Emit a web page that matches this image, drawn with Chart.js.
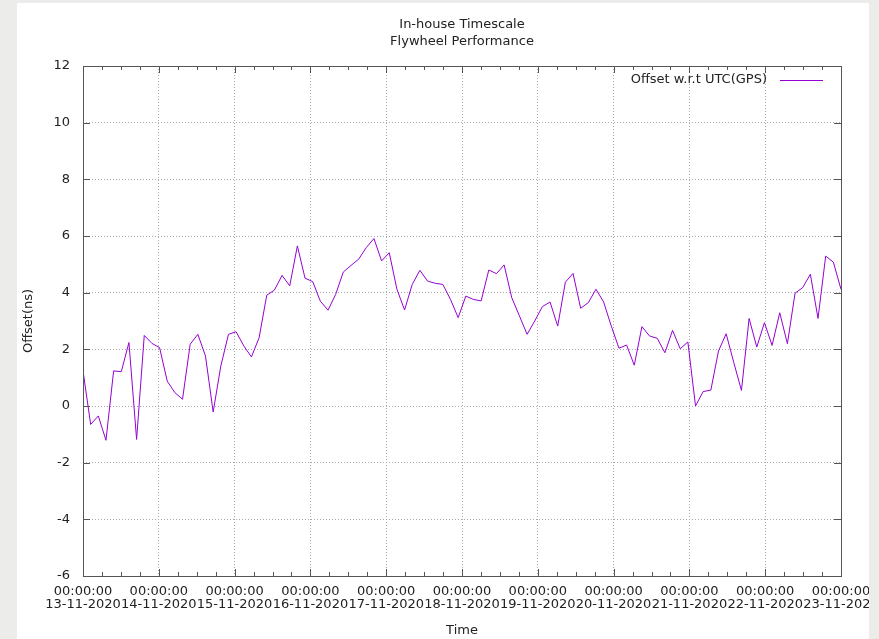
<!DOCTYPE html>
<html>
<head>
<meta charset="utf-8">
<title>In-house Timescale</title>
<script src="https://cdn.jsdelivr.net/npm/chart.js@4/dist/chart.umd.min.js"></script>
<style>
    html, body { margin: 0; padding: 0; background: #ecedea; overflow: hidden; }
    #frame { position: absolute; left: 17px; top: 3px; width: 852px; height: 636px; overflow: hidden; background: #fff; }
</style>
</head>
<body>
<div id="frame"><canvas id="myChart" width="900" height="636"></canvas></div>
<script>
const titleLines = ['In-house Timescale', 'Flywheel Performance']
const seriesLabel = 'Offset w.r.t UTC(GPS)'
const timeLabel = '00:00:00'
const dayLabels = [
    '13-11-2020', '14-11-2020', '15-11-2020', '16-11-2020', '17-11-2020', '18-11-2020',
    '19-11-2020', '20-11-2020', '21-11-2020', '22-11-2020', '23-11-2020',
]

// offset in ns, one sample every ~2.4 h from 13-11-2020 00:00 to 23-11-2020 00:00
const offsets = [
    1.24, -0.65, -0.35, -1.21, 1.24, 1.21, 2.24, -1.18, 2.49, 2.21,
    2.06, 0.88, 0.47, 0.24, 2.18, 2.53, 1.76, -0.21, 1.41, 2.53,
    2.62, 2.12, 1.73, 2.41, 3.91, 4.09, 4.61, 4.24, 5.65, 4.51,
    4.39, 3.70, 3.38, 3.94, 4.73, 4.96, 5.18, 5.59, 5.91, 5.12,
    5.41, 4.12, 3.39, 4.29, 4.79, 4.41, 4.33, 4.29, 3.76, 3.12,
    3.88, 3.76, 3.71, 4.80, 4.67, 4.98, 3.82, 3.18, 2.53, 3.00,
    3.51, 3.67, 2.82, 4.37, 4.68, 3.45, 3.65, 4.12, 3.67, 2.82,
    2.04, 2.15, 1.44, 2.80, 2.47, 2.39, 1.88, 2.67, 2.02, 2.26,
    0.00, 0.51, 0.56, 1.94, 2.55, 1.53, 0.55, 3.09, 2.08, 2.94,
    2.14, 3.29, 2.20, 3.98, 4.18, 4.65, 3.09, 5.29, 5.08, 4.12,
]

const spanHours = 240
const stepHours = spanHours / (offsets.length - 1)

const fontFamily = '"DejaVu Sans", sans-serif'
const textColor = '#222'
const lineColor = '#9400d3'

// gnuplot style border, inward ticks and key
const gnuplotFrame = {
    id: 'gnuplotFrame',
    afterDraw(chart) {
        const ctx = chart.ctx
        const { left, right, top, bottom } = chart.chartArea
        const xs = chart.scales.x
        const ys = chart.scales.y
        ctx.save()
        ctx.strokeStyle = '#555'
        ctx.lineWidth = 1
        ctx.beginPath()
        for (let h = 0; h <= spanHours; h += 6) {
            const px = Math.round(xs.getPixelForValue(h)) + 0.5
            const len = h % 24 === 0 ? 7 : 4
            ctx.moveTo(px, bottom)
            ctx.lineTo(px, bottom - len)
            ctx.moveTo(px, top)
            ctx.lineTo(px, top + len)
        }
        for (let v = -6; v <= 12; v += 2) {
            const py = Math.round(ys.getPixelForValue(v)) + 0.5
            ctx.moveTo(left, py)
            ctx.lineTo(left + 7, py)
            ctx.moveTo(right, py)
            ctx.lineTo(right - 7, py)
        }
        ctx.stroke()
        ctx.strokeRect(Math.round(left) + 0.5, Math.round(top) + 0.5, Math.round(right - left), Math.round(bottom - top))

        const ds = chart.data.datasets[0]
        ctx.font = '13px ' + fontFamily
        ctx.fillStyle = textColor
        ctx.textAlign = 'right'
        ctx.textBaseline = 'middle'
        ctx.fillText(ds.label, right - 74, top + 14)
        ctx.strokeStyle = ds.borderColor
        ctx.beginPath()
        ctx.moveTo(right - 61, top + 14.5)
        ctx.lineTo(right - 18, top + 14.5)
        ctx.stroke()
        ctx.restore()
    },
}

const ctx = document.getElementById('myChart').getContext('2d')

const myLineChart = new Chart(ctx, {
    type: 'line',
    data: {
        datasets: [
            {
                label: seriesLabel,
                data: offsets.map((v, i) => ({ x: i * stepHours, y: v })),
                borderColor: lineColor,
                borderWidth: 1,
                pointRadius: 0,
                tension: 0,
                fill: false,
            },
        ],
    },
    options: {
        responsive: false,
        animation: false,
        layout: { padding: { left: 0, right: 76, top: 0, bottom: 0 } },
        plugins: {
            legend: { display: false },
            tooltip: { enabled: false },
            title: {
                display: true,
                text: titleLines,
                fullSize: false,
                color: textColor,
                font: { family: fontFamily, size: 13, weight: 'normal', lineHeight: 1.3 },
                padding: { top: 13.5, bottom: 15.7 },
            },
        },
        scales: {
            x: {
                type: 'linear',
                min: 0,
                max: spanHours,
                afterFit(scale) { scale.height = 63 },
                ticks: {
                    stepSize: 24,
                    autoSkip: false,
                    maxRotation: 0,
                    minRotation: 0,
                    padding: 9,
                    color: textColor,
                    font: { family: fontFamily, size: 13, lineHeight: 1.03 },
                    callback: (v) => [timeLabel, dayLabels[Math.round(v / 24)]],
                },
                grid: { color: '#aaa', lineWidth: 1, drawTicks: false },
                border: { display: false, dash: [1, 2] },
                title: {
                    display: true,
                    text: 'Time',
                    color: textColor,
                    font: { family: fontFamily, size: 13, lineHeight: 1 },
                    padding: { top: 0, bottom: 1.5 },
                },
            },
            y: {
                min: -6,
                max: 12,
                afterFit(scale) { scale.width = 66 },
                ticks: {
                    stepSize: 2,
                    padding: 13,
                    color: textColor,
                    font: { family: fontFamily, size: 13 },
                },
                grid: { color: '#aaa', lineWidth: 1, drawTicks: false },
                border: { display: false, dash: [1, 2] },
                title: {
                    display: true,
                    text: 'Offset(ns)',
                    color: textColor,
                    font: { family: fontFamily, size: 13, lineHeight: 1 },
                    padding: { top: 5.5, bottom: 0 },
                },
            },
        },
    },
    plugins: [gnuplotFrame],
})
</script>
</body>
</html>
